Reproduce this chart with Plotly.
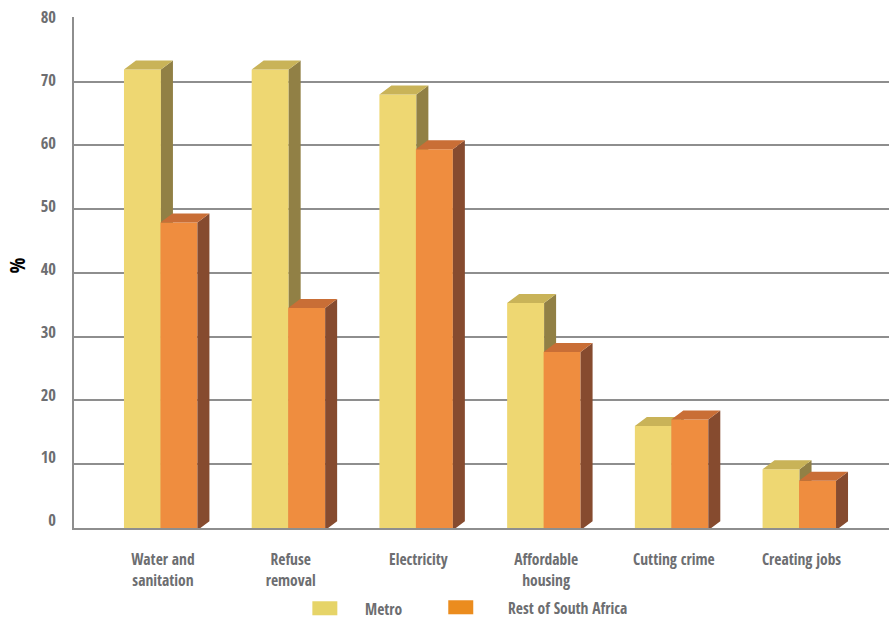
import plotly.graph_objects as go

categories = ["Water and<br>sanitation", "Refuse<br>removal", "Electricity",
              "Affordable<br>housing", "Cutting crime", "Creating jobs"]
metro = [71.9, 71.9, 68, 35.3, 16, 9.2]
rest_of_sa = [47.9, 34.5, 59.4, 27.6, 17, 7.4]
y_ticks = [0, 10, 20, 30, 40, 50, 60, 70, 80]

GROUP_PX = 127.8      # distance between neighbouring groups
UNIT_PX = 6.37        # pixels per percentage point
PLOT_LEFT = 73.5
PLOT_BOTTOM = 527.8
PLOT_W = 889 - PLOT_LEFT
BAR_W = 37 / GROUP_PX
DEPTH_X = 12 / GROUP_PX
DEPTH_Y = 9 / UNIT_PX
BASE = -0.35
Y_TOP = 80.15         # keeps the gridline at 80 inside the plot area
FONT = "Open Sans Condensed, Roboto Condensed, sans-serif"
GREY = "#6d6e71"
LINE = "#8e8e8e"

plot_top = PLOT_BOTTOM - Y_TOP * UNIT_PX
PLOT_H = PLOT_BOTTOM - plot_top


def paper_x(px):
    return (px - PLOT_LEFT) / PLOT_W


def paper_y(px):
    return (PLOT_BOTTOM - px) / PLOT_H


def polygons(rects):
    xs, ys = [], []
    for pts in rects:
        xs += [p[0] for p in pts] + [pts[0][0], None]
        ys += [p[1] for p in pts] + [pts[0][1], None]
    return xs, ys


def add_series(fig, values, offset, front, top, side, name, xa, ya):
    lefts = [i + offset for i in range(len(values))]
    fig.add_trace(go.Bar(
        x=[l + BAR_W / 2 for l in lefts], y=[v - BASE for v in values], base=BASE,
        width=BAR_W, marker=dict(color=front, line=dict(width=0)),
        name=name, cliponaxis=False, xaxis=xa, yaxis=ya, hoverinfo="skip",
    ))
    side_x, side_y = polygons([
        [(l + BAR_W, BASE), (l + BAR_W + DEPTH_X, BASE + DEPTH_Y),
         (l + BAR_W + DEPTH_X, v + DEPTH_Y), (l + BAR_W, v)]
        for l, v in zip(lefts, values)
    ])
    top_x, top_y = polygons([
        [(l, v), (l + DEPTH_X, v + DEPTH_Y),
         (l + BAR_W + DEPTH_X, v + DEPTH_Y), (l + BAR_W, v)]
        for l, v in zip(lefts, values)
    ])
    for px, py, colour in ((side_x, side_y, side), (top_x, top_y, top)):
        fig.add_trace(go.Scatter(
            x=px, y=py, mode="none", fill="toself", fillcolor=colour,
            cliponaxis=False, xaxis=xa, yaxis=ya, hoverinfo="skip",
        ))


fig = go.Figure()
add_series(fig, metro, -39 / GROUP_PX, "#eed772", "#c9b358", "#918045", "Metro", "x", "y")
add_series(fig, rest_of_sa, -2.5 / GROUP_PX, "#ef8d3f", "#c96e36", "#864b2f",
           "Rest of South Africa", "x2", "y2")

# Invisible carrier for the axis that draws the value labels
fig.add_trace(go.Scatter(x=[0], y=[0], mode="none", xaxis="x", yaxis="y3", hoverinfo="skip"))

x_start = -(162.5 - PLOT_LEFT) / GROUP_PX
x_range = [x_start, x_start + PLOT_W / GROUP_PX]

fig.update_layout(
    width=889, height=618,
    margin=dict(l=PLOT_LEFT, r=0, t=plot_top, b=618 - PLOT_BOTTOM, autoexpand=False),
    paper_bgcolor="white", plot_bgcolor="white",
    barmode="overlay", showlegend=False,
    font=dict(family=FONT, color=GREY),
    xaxis=dict(
        range=x_range, tickvals=list(range(len(categories))), ticktext=categories,
        ticks="", ticklabelstandoff=17, showgrid=False, zeroline=False,
        showline=True, linecolor=LINE, linewidth=1.5,
        tickfont=dict(family=FONT, size=15.5, color=GREY, weight="bold"),
    ),
    yaxis=dict(
        range=[0, Y_TOP], tickvals=y_ticks, showticklabels=False, ticks="",
        showgrid=True, gridcolor=LINE, gridwidth=1.5, zeroline=False,
        showline=True, linecolor=LINE, linewidth=1.5,
    ),
    xaxis2=dict(overlaying="x", range=x_range, visible=False),
    yaxis2=dict(overlaying="y", range=[0, Y_TOP], visible=False),
    yaxis3=dict(
        overlaying="y", range=[-1.2, 80.1], tickvals=y_ticks, side="left",
        ticks="", ticklabelstandoff=17, showgrid=False, zeroline=False, showline=False,
        tickfont=dict(family=FONT, size=16.5, color=GREY, weight="bold"),
    ),
    shapes=[
        dict(type="rect", xref="paper", yref="paper", line=dict(width=0), fillcolor="#e6d468",
             x0=paper_x(312), x1=paper_x(337), y0=paper_y(615), y1=paper_y(601)),
        dict(type="rect", xref="paper", yref="paper", line=dict(width=0), fillcolor="#eb8c1e",
             x0=paper_x(448), x1=paper_x(473), y0=paper_y(614), y1=paper_y(600)),
    ],
    annotations=[
        dict(text="<b>Metro</b>", xref="paper", yref="paper", showarrow=False,
             xanchor="left", yanchor="middle", x=paper_x(363), y=paper_y(608.5),
             font=dict(family=FONT, size=15.5, color=GREY)),
        dict(text="<b>Rest of South Africa</b>", xref="paper", yref="paper", showarrow=False,
             xanchor="left", yanchor="middle", x=paper_x(505.5), y=paper_y(608),
             font=dict(family=FONT, size=15.5, color=GREY)),
        dict(text="<b>%</b>", xref="paper", yref="paper", showarrow=False, textangle=-90,
             xanchor="center", yanchor="middle", x=paper_x(16), y=paper_y(266),
             font=dict(family=FONT, size=21, color="black")),
    ],
)

fig.write_html("out.html")
